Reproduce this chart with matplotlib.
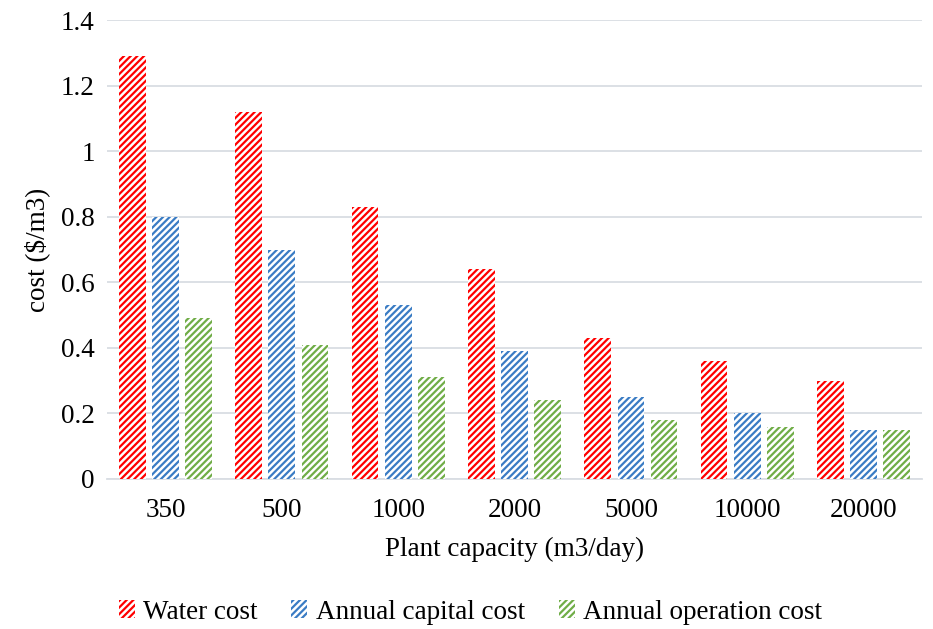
import matplotlib
matplotlib.use("Agg")
import matplotlib.pyplot as plt
import numpy as np

categories = ["350", "500", "1000", "2000", "5000", "10000", "20000"]
water_cost = [1.29, 1.12, 0.83, 0.64, 0.43, 0.36, 0.30]
capital_cost = [0.80, 0.70, 0.53, 0.39, 0.25, 0.20, 0.15]
operation_cost = [0.49, 0.41, 0.31, 0.24, 0.18, 0.16, 0.15]
series_names = ["Water cost", "Annual capital cost", "Annual operation cost"]
colors = ["#FF0000", "#3A7CC4", "#70AD47"]

plt.rcParams['font.family'] = ['Liberation Serif', 'DejaVu Serif']
plt.rcParams['hatch.linewidth'] = 1.6

fig = plt.figure(figsize=(9.33, 6.29), dpi=100)
ax = fig.add_axes([0.115, 0.2385, 0.873, 0.7295])

x = np.arange(len(categories))
w = 0.23
off = 0.285
handles = []
for i, (vals, c, name) in enumerate(zip([water_cost, capital_cost, operation_cost], colors, series_names)):
    b = ax.bar(x + (i - 1) * off, vals, w, facecolor="white", edgecolor=c,
               hatch="/////", linewidth=0, label=name, zorder=3)
    handles.append(b)

ax.set_xlim(-0.5, len(categories) - 0.5)
ax.set_ylim(0, 1.4)
ax.set_yticks(np.arange(0, 1.41, 0.2))
ax.set_yticklabels(["0", "0.2", "0.4", "0.6", "0.8", "1", "1.2", "1.4"])
ax.set_xticks(x)
ax.set_xticklabels(categories)
ax.grid(axis="y", color="#D9DDE3", linewidth=1.3, zorder=0)
ax.set_axisbelow(True)
for s in ["top", "right", "left"]:
    ax.spines[s].set_visible(False)
ax.spines["bottom"].set_color("#D9DDE3")
ax.spines["bottom"].set_linewidth(1.3)
ax.tick_params(axis="both", length=0, labelsize=19.5, colors="black")
ax.tick_params(axis="x", pad=14)
ax.tick_params(axis="y", pad=9)
ax.set_xlabel("Plant capacity (m3/day)", fontsize=19.5, labelpad=10)
ax.set_ylabel("cost ($/m3)", fontsize=19.5, labelpad=8)

fig.legend(handles=handles, labels=series_names, loc="center", bbox_to_anchor=(0.504, 0.027),
           ncol=3, frameon=False, fontsize=19.5, handlelength=0.6, handleheight=0.6,
           handletextpad=0.3, columnspacing=1.25)

fig.savefig("out.png", dpi=100)
